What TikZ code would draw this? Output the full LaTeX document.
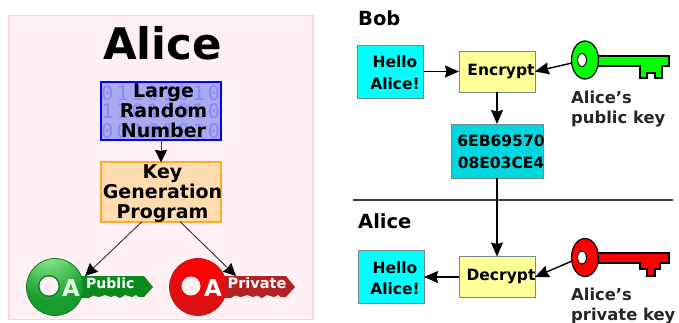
\documentclass[tikz,border=0pt]{standalone}
\usepackage{fontspec}
\setmainfont{DejaVu Sans}
\setmonofont{DejaVu Sans Mono}
\usetikzlibrary{arrows.meta,calc,shapes.geometric}
\definecolor{panelfill}{HTML}{FFF0F3}
\definecolor{panelline}{HTML}{FFD2DC}
\definecolor{randfill}{HTML}{AAAAF0}
\definecolor{digitc}{HTML}{8A8AF4}
\definecolor{progfill}{HTML}{FFDCB0}
\definecolor{progline}{HTML}{FFA930}
\definecolor{boxline}{HTML}{6E8C8C}
\definecolor{yellowbox}{HTML}{FFFF99}
\definecolor{cipherfill}{HTML}{00D8E0}
\definecolor{msgfill}{HTML}{00FFFF}
\definecolor{pure green}{HTML}{00FF00}
\definecolor{pure red}{HTML}{FF0000}
\definecolor{glight}{HTML}{90EE90}
\definecolor{gball}{HTML}{189C30}
\definecolor{gdark}{HTML}{0C7F24}
\definecolor{gblade}{HTML}{0A8A1E}
\definecolor{rmid}{HTML}{C81A1A}
\definecolor{rblade}{HTML}{B22222}
\pgfdeclareradialshading{ballgreen}{\pgfpoint{-7bp}{38bp}}{color(0bp)=(glight);color(6bp)=(glight);color(36bp)=(gball);color(70bp)=(gball);color(100bp)=(gdark)}
\pgfdeclareradialshading{ballred}{\pgfpoint{4bp}{38bp}}{color(0bp)=(pure red);color(14bp)=(pure red);color(55bp)=(rmid);color(85bp)=(rblade);color(100bp)=(rblade)}
\newcommand\tx[3]{\makebox[0pt]{\hspace{#1}\raisebox{#2}[\height][\depth]{\begin{tabular}{@{}c@{}}#3\end{tabular}}}}
\newcommand\bladepath[2]{%
 (#1,276) -- (#2-9,276) -- (#2,287) -- (#2-9,297) -- (#2-14,297) -- (#2-17,295) -- (#2-21,297) -- (#2-28,295) -- (#2-33,298) -- (#2-38,295.5) -- (#2-42,297) -- (#2-48,295) -- (#2-54,297) -- (#2-60,295.5) -- (#2-64,298) -- (#1,298) -- cycle}
\tikzset{
 x=1pt,y=-1pt,
 panel/.style={draw=panelline,fill=panelfill,line width=1.3},
 bigbox/.style={minimum width=120,minimum height=58,inner sep=0,outer sep=0,line width=2,text=black,font=\bfseries\fontsize{19}{19}\selectfont},
 randbox/.style={bigbox,draw=blue,fill=randfill},
 progbox/.style={bigbox,draw=progline,fill=progfill},
 smallbox/.style={draw=boxline,line width=1,inner sep=0,outer sep=0,font=\bfseries\fontsize{15.5}{21.5}\selectfont},
 msgbox/.style={smallbox,fill=msgfill,minimum width=66,minimum height=53},
 opbox/.style={smallbox,fill=yellowbox,minimum width=76,minimum height=41},
 cipherbox/.style={smallbox,fill=cipherfill,minimum width=92,minimum height=54},
 digit/.style={text=digitc,inner sep=0,font=\ttfamily\fontsize{20}{20}\selectfont},
 thinarrow/.style={draw=black!75,line width=1,-{Stealth[length=12.5,width=12,inset=1,color=black]}},
 thickarrow/.style={draw=black,line width=1.4,-{Stealth[length=14,width=12,inset=1.5]}},
 heading/.style={inner sep=0,anchor=base west,font=\bfseries\fontsize{19.5}{20}\selectfont},
 keylabel/.style={inner sep=0,anchor=west,align=left,text=black!85,font=\bfseries\fontsize{16.4}{20}\selectfont},
 keybow/.style={ellipse,draw=black,line width=1.2},
 keyword/.style={inner sep=0,anchor=base west,text=white,font=\bfseries\fontsize{14}{14}\selectfont},
 keyletter/.style={inner sep=0,anchor=base,text=white,font=\bfseries\fontsize{23}{23}\selectfont},
}
\begin{document}
\begin{tikzpicture}
\useasboundingbox (0,0) rectangle (679,322);
\fill[white] (0,0) rectangle (679,322);
% left panel
\node[panel,minimum width=304,minimum height=304,inner sep=0] (alicepanel) at (161,167.5) {};
\node[inner sep=0,anchor=base,font=\bfseries\fontsize{43.5}{44}\selectfont] (alicetitle) at (162.5,59.5) {Alice};
\node[randbox] (rand) at (161,111) {};
\foreach \r/\y/\row in {1/100/{0,1,1,0,1,0,1,0},2/118.5/{1,1,0,1,0,0,1,0},3/138/{0,0,1,0,1,0,1,0}}{
  \foreach \d [count=\c from 0] in \row {
    \node[digit,anchor=base] (d\r-\c) at (107.5+\c*15.2,\y) {\d};
  }
}
\node[inner sep=0,font=\bfseries\fontsize{19}{19}\selectfont] (randtext) at (163.5,113.5) {\begin{tabular}{@{}c@{}}Large\\Random\\Number\end{tabular}};
\node[progbox] (prog) at (161,192) {\tx{3pt}{-2.5pt}{Key\\Generation\\Program}};
\draw[thinarrow] (rand) -- (prog);
% public key
\fill[gblade] \bladepath{70}{153};
\node[circle,draw=gdark,line width=0.8,minimum size=57,inner sep=0,shading=ballgreen] (pubkey) at (55,287) {};
\fill[gdark] (49,286) circle (11);
\fill[panelfill] (49,286) circle (9.5);
\node[keyletter,text=white!90!green] (puba) at (71,296.5) {A};
\node[keyword] (pubtext) at (86,288) {Public};
% private key
\fill[rblade] \bladepath{215}{295};
\node[circle,draw=rblade,line width=0.8,minimum size=57,inner sep=0,shading=ballred] (privkey) at (198,287) {};
\fill[panelfill] (191,286) circle (9.5);
\node[keyletter] (priva) at (213,296.5) {A};
\node[keyword,font=\bfseries\fontsize{14.5}{14.5}\selectfont] (privtext) at (227.5,288) {Private};
\coordinate (pubtip) at (85,276);
\coordinate (privtip) at (236,276);
\draw[thinarrow] ($(prog.south)+(-19,0)$) -- (pubtip);
\draw[thinarrow] ($(prog.south)+(19,0)$) -- (privtip);
% Bob
\node[heading] (bob) at (358,25) {Bob};
\node[msgbox] (hello1) at (390.5,71.5) {\tx{9pt}{-2.5pt}{Hello\\Alice!}};
\node[opbox] (encrypt) at (497,71.5) {\makebox[0pt]{\hspace{8pt}Encrypt}};
\node[cipherbox] (cipher) at (497,151) {\tx{8pt}{-2pt}{6EB69570\\08E03CE4}};
\fill[pure green,draw=black,line width=1.1] (598,56) -- (669,56) -- (669,66) -- (662,66) -- (662,78) -- (655,78) -- (655,73) -- (647,73) -- (647,78) -- (640,78) -- (640,66) -- (598,66) -- cycle;
\node[keybow,fill=pure green,minimum width=27,minimum height=38,inner sep=0] (greenbow) at (585,60) {};
\fill[white,draw=black,line width=1] (582,60) ellipse [x radius=4.5,y radius=6.5];
\node[keylabel] (publabel) at (571,109) {Alice\symbol{39}s\\public key};
\coordinate (greentail) at (572,63);
\draw[thickarrow] (hello1) -- (encrypt);
\draw[thickarrow] (greentail) -- (encrypt.east);
\draw[thickarrow] (encrypt) -- (cipher);
% divider
\coordinate (divl) at (353,200);
\coordinate (divr) at (673,200);
\draw[draw=black!75,line width=1.1] (divl) -- (divr);
% Alice
\node[heading] (alice2) at (358,228) {Alice};
\node[msgbox] (hello2) at (391,277) {\tx{8pt}{-2.5pt}{Hello\\Alice!}};
\node[opbox] (decrypt) at (497,277) {\makebox[0pt]{\hspace{8pt}Decrypt}};
\fill[pure red,draw=black,line width=1.1] (598,253) -- (669,253) -- (669,263) -- (660,263) -- (660,269) -- (655,269) -- (655,276) -- (647,276) -- (647,269) -- (640,269) -- (640,263) -- (598,263) -- cycle;
\node[keybow,fill=pure red,minimum width=27,minimum height=38,inner sep=0] (redbow) at (585,257.5) {};
\fill[white,draw=black,line width=1] (582,257.5) ellipse [x radius=4.5,y radius=6.5];
\node[keylabel] (privlabel) at (571,306.5) {Alice\symbol{39}s\\private key};
\coordinate (redtail) at (572,261);
\draw[thickarrow] (cipher) -- (decrypt);
\draw[thickarrow] (decrypt) -- (hello2);
\draw[thickarrow] (redtail) -- (decrypt.east);
\end{tikzpicture}
\end{document}
